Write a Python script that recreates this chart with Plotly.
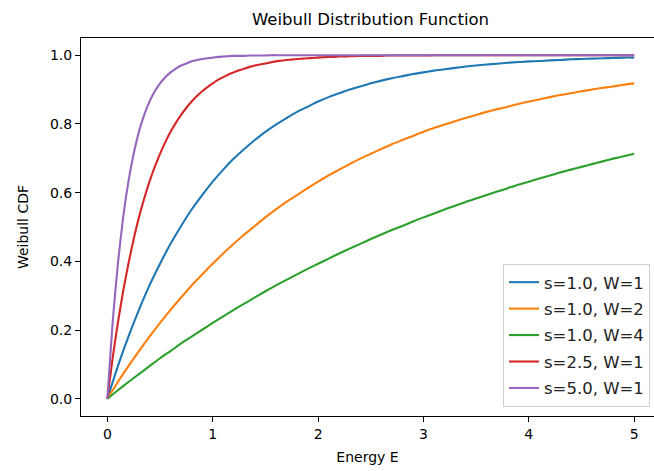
import plotly.graph_objects as go

energy = [round(0.1 * i, 1) for i in range(51)]
energy_fine = [round(0.05 * i, 2) for i in range(101)]

cdf_s1_w1 = [0, 0.095, 0.181, 0.259, 0.330, 0.393, 0.451, 0.503, 0.551, 0.593, 0.632,
             0.667, 0.699, 0.727, 0.753, 0.777, 0.798, 0.817, 0.835, 0.850, 0.865,
             0.878, 0.889, 0.900, 0.909, 0.918, 0.926, 0.933, 0.939, 0.945, 0.950,
             0.955, 0.959, 0.963, 0.967, 0.970, 0.973, 0.975, 0.978, 0.980, 0.982,
             0.983, 0.985, 0.986, 0.988, 0.989, 0.990, 0.991, 0.992, 0.993, 0.993]
cdf_s1_w2 = [0, 0.049, 0.095, 0.139, 0.181, 0.221, 0.259, 0.295, 0.330, 0.362, 0.393,
             0.423, 0.451, 0.478, 0.503, 0.528, 0.551, 0.573, 0.593, 0.613, 0.632,
             0.650, 0.667, 0.683, 0.699, 0.713, 0.727, 0.741, 0.753, 0.765, 0.777,
             0.788, 0.798, 0.808, 0.817, 0.826, 0.835, 0.843, 0.850, 0.858, 0.865,
             0.871, 0.878, 0.884, 0.889, 0.895, 0.900, 0.905, 0.909, 0.914, 0.918]
cdf_s1_w4 = [0, 0.025, 0.049, 0.072, 0.095, 0.118, 0.139, 0.161, 0.181, 0.201, 0.221,
             0.240, 0.259, 0.277, 0.295, 0.313, 0.330, 0.346, 0.362, 0.378, 0.393,
             0.408, 0.423, 0.437, 0.451, 0.465, 0.478, 0.491, 0.503, 0.516, 0.528,
             0.539, 0.551, 0.562, 0.573, 0.583, 0.593, 0.603, 0.613, 0.623, 0.632,
             0.641, 0.650, 0.659, 0.667, 0.675, 0.683, 0.691, 0.699, 0.706, 0.713]
cdf_s25_w1 = [0, 0.118, 0.221, 0.313, 0.393, 0.465, 0.528, 0.583, 0.632, 0.675, 0.713,
              0.747, 0.777, 0.803, 0.826, 0.847, 0.865, 0.881, 0.895, 0.907, 0.918,
              0.928, 0.936, 0.944, 0.950, 0.956, 0.961, 0.966, 0.970, 0.973, 0.976,
              0.979, 0.982, 0.984, 0.986, 0.987, 0.989, 0.990, 0.991, 0.992, 0.993,
              0.994, 0.995, 0.995, 0.996, 0.996, 0.997, 0.997, 0.998, 0.998, 0.998,
              0.998, 0.998, 0.999, 0.999, 0.999, 0.999, 0.999, 0.999, 0.999, 0.999,
              0.999, 1.0, 1.0, 1.0, 1.0, 1.0, 1.0, 1.0, 1.0, 1.0,
              1.0, 1.0, 1.0, 1.0, 1.0, 1.0, 1.0, 1.0, 1.0, 1.0,
              1.0, 1.0, 1.0, 1.0, 1.0, 1.0, 1.0, 1.0, 1.0, 1.0,
              1.0, 1.0, 1.0, 1.0, 1.0, 1.0, 1.0, 1.0, 1.0, 1.0]
cdf_s5_w1 = [0, 0.221, 0.393, 0.528, 0.632, 0.713, 0.777, 0.826, 0.865, 0.895, 0.918,
             0.936, 0.950, 0.961, 0.970, 0.976, 0.982, 0.986, 0.989, 0.991, 0.993,
             0.995, 0.996, 0.997, 0.998, 0.998, 0.998, 0.999, 0.999, 0.999, 0.999,
             1.0, 1.0, 1.0, 1.0, 1.0, 1.0, 1.0, 1.0, 1.0, 1.0,
             1.0, 1.0, 1.0, 1.0, 1.0, 1.0, 1.0, 1.0, 1.0, 1.0,
             1.0, 1.0, 1.0, 1.0, 1.0, 1.0, 1.0, 1.0, 1.0, 1.0,
             1.0, 1.0, 1.0, 1.0, 1.0, 1.0, 1.0, 1.0, 1.0, 1.0,
             1.0, 1.0, 1.0, 1.0, 1.0, 1.0, 1.0, 1.0, 1.0, 1.0,
             1.0, 1.0, 1.0, 1.0, 1.0, 1.0, 1.0, 1.0, 1.0, 1.0,
             1.0, 1.0, 1.0, 1.0, 1.0, 1.0, 1.0, 1.0, 1.0, 1.0]

series_names = ["s=1.0, W=1", "s=1.0, W=2", "s=1.0, W=4", "s=2.5, W=1", "s=5.0, W=1"]
series_x = [energy, energy, energy, energy_fine, energy_fine]
series_values = [cdf_s1_w1, cdf_s1_w2, cdf_s1_w4, cdf_s25_w1, cdf_s5_w1]
colors = ["#1f77b4", "#ff7f0e", "#2ca02c", "#d62728", "#9467bd"]

x_ticks = [0, 1, 2, 3, 4, 5]
y_ticks = [0.0, 0.2, 0.4, 0.6, 0.8, 1.0]

FONT = "DejaVu Sans"

fig = go.Figure()
for i, (name, xs, vals, col) in enumerate(zip(series_names, series_x, series_values, colors)):
    fig.add_trace(go.Scatter(x=xs, y=vals, mode="lines", name=name,
                             legendgroup=f"g{i}",
                             line=dict(color=col, width=2.1, shape="spline", smoothing=0.6)))

fig.update_layout(
    width=654, height=471,
    margin=dict(l=81, r=0, t=38, b=55),
    paper_bgcolor="white", plot_bgcolor="white",
    font=dict(family=FONT, size=14, color="black"),
    title=dict(text="Weibull Distribution Function", x=(81 + 660) / 2 / 654, xanchor="center",
               y=1 - 19 / 471, yanchor="middle", font=dict(size=16.5, family=FONT, color="black")),
    legend=dict(x=0.993, y=0.024, xanchor="right", yanchor="bottom",
                bgcolor="rgba(255,255,255,0.8)", bordercolor="#d0d0d0", borderwidth=1,
                font=dict(size=16.5, family=FONT, color="#222"), traceorder="grouped",
                tracegroupgap=2, itemwidth=30),
    showlegend=True,
)
fig.update_xaxes(range=[-0.25, 5.188], tickvals=x_ticks, ticktext=[str(t) for t in x_ticks],
                 showline=True, linecolor="black", linewidth=1, mirror=True,
                 ticks="outside", ticklen=5, tickcolor="black", showgrid=False, zeroline=False,
                 title=dict(text="Energy E", font=dict(size=14), standoff=11))
fig.update_yaxes(range=[-0.05, 1.05], tickvals=y_ticks, ticktext=[f"{t:.1f}" for t in y_ticks],
                 showline=True, linecolor="black", linewidth=1, mirror=False,
                 ticks="outside", ticklen=5, tickcolor="black", showgrid=False, zeroline=False,
                 title=dict(text="Weibull CDF", font=dict(size=14), standoff=18))

fig.write_html("out.html", config={"displayModeBar": False},
               post_script="document.body.style.margin='0';document.body.style.overflow='hidden';")
